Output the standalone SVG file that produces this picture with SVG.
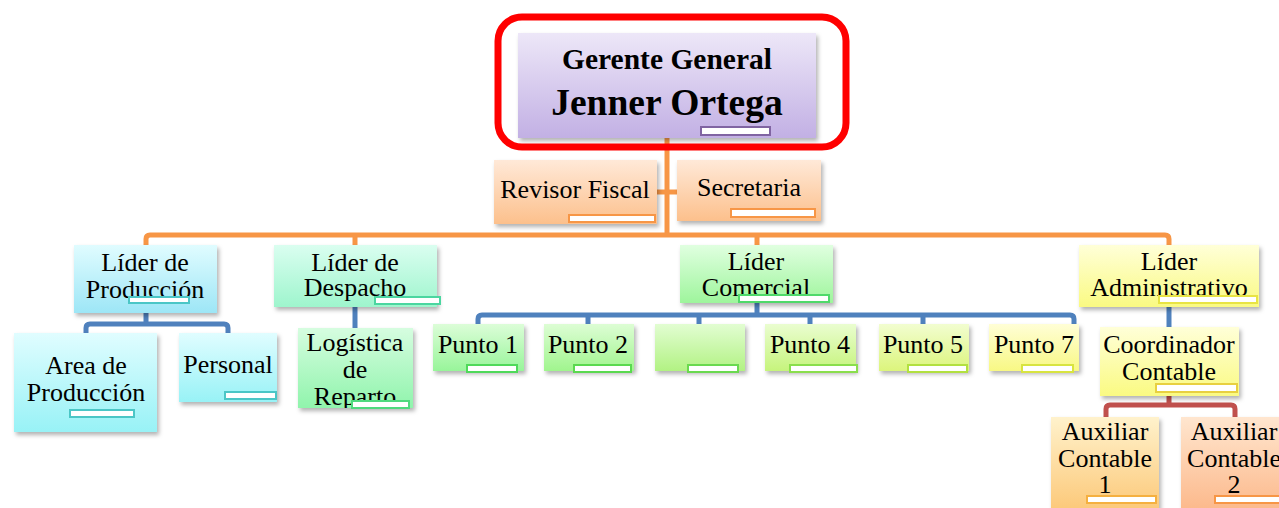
<svg xmlns="http://www.w3.org/2000/svg" width="1279" height="508" viewBox="0 0 1279 508">
<style>
text{font-family:"Liberation Serif","Times New Roman",serif;fill:#000;text-anchor:middle}
.t{font-size:26px}
.g1{font-size:29.5px;font-weight:bold}
.g2{font-size:37.5px;font-weight:bold}
.box{filter:url(#sh)}
.ph{fill:#fff;stroke-width:2}
.co{fill:none;stroke-width:5;stroke-linejoin:round;stroke-linecap:butt}
.or{stroke:#f79646}
.bl{stroke:#4f81bd}
.rd{stroke:#c0504d}
</style>
<defs>
<filter id="sh" x="-10%" y="-10%" width="130%" height="140%">
<feDropShadow dx="2" dy="3" stdDeviation="2" flood-color="#000" flood-opacity="0.3"/>
</filter>
<linearGradient id="gP" x1="0" y1="0" x2="0" y2="1"><stop offset="0" stop-color="#ede7f8"/><stop offset="1" stop-color="#c2b0e4"/></linearGradient>
<linearGradient id="gO" x1="0" y1="0" x2="0" y2="1"><stop offset="0" stop-color="#ffe9d8"/><stop offset="1" stop-color="#fcc08c"/></linearGradient>
<linearGradient id="gC" x1="0" y1="0" x2="0" y2="1"><stop offset="0" stop-color="#e0fcff"/><stop offset="1" stop-color="#9de6f6"/></linearGradient>
<linearGradient id="gC2" x1="0" y1="0" x2="0" y2="1"><stop offset="0" stop-color="#e0fdff"/><stop offset="1" stop-color="#98f2f6"/></linearGradient>
<linearGradient id="gA" x1="0" y1="0" x2="0" y2="1"><stop offset="0" stop-color="#dafef0"/><stop offset="1" stop-color="#9ef5cd"/></linearGradient>
<linearGradient id="gL" x1="0" y1="0" x2="0" y2="1"><stop offset="0" stop-color="#d6fde0"/><stop offset="1" stop-color="#90f4ac"/></linearGradient>
<linearGradient id="gG" x1="0" y1="0" x2="0" y2="1"><stop offset="0" stop-color="#e0ffe0"/><stop offset="1" stop-color="#9ef59c"/></linearGradient>
<linearGradient id="g1" x1="0" y1="0" x2="0" y2="1"><stop offset="0" stop-color="#dcfdd8"/><stop offset="1" stop-color="#98f59a"/></linearGradient>
<linearGradient id="g2" x1="0" y1="0" x2="0" y2="1"><stop offset="0" stop-color="#ddfdd4"/><stop offset="1" stop-color="#a0f58e"/></linearGradient>
<linearGradient id="g3" x1="0" y1="0" x2="0" y2="1"><stop offset="0" stop-color="#e2fdd2"/><stop offset="1" stop-color="#b2f283"/></linearGradient>
<linearGradient id="g4" x1="0" y1="0" x2="0" y2="1"><stop offset="0" stop-color="#eafdd0"/><stop offset="1" stop-color="#c6f47c"/></linearGradient>
<linearGradient id="g5" x1="0" y1="0" x2="0" y2="1"><stop offset="0" stop-color="#f2fdd0"/><stop offset="1" stop-color="#dcf57c"/></linearGradient>
<linearGradient id="g7" x1="0" y1="0" x2="0" y2="1"><stop offset="0" stop-color="#fffed6"/><stop offset="1" stop-color="#f8f884"/></linearGradient>
<linearGradient id="gY" x1="0" y1="0" x2="0" y2="1"><stop offset="0" stop-color="#ffffd8"/><stop offset="1" stop-color="#fafa82"/></linearGradient>
<linearGradient id="gX1" x1="0" y1="0" x2="0" y2="1"><stop offset="0" stop-color="#fff2cc"/><stop offset="1" stop-color="#fcc878"/></linearGradient>
<linearGradient id="gX2" x1="0" y1="0" x2="0" y2="1"><stop offset="0" stop-color="#ffe6cf"/><stop offset="1" stop-color="#fcb88a"/></linearGradient>
<clipPath id="cDes"><rect x="274" y="245" width="163" height="62"/></clipPath>
<clipPath id="cLog"><rect x="298" y="328" width="115" height="80"/></clipPath>
<clipPath id="cCom"><rect x="680" y="245" width="153" height="58"/></clipPath>
<clipPath id="cAdm"><rect x="1079" y="245" width="180" height="62"/></clipPath>
</defs>
<rect width="1279" height="508" fill="#fff"/>

<g id="connectors">
<path class="co or" d="M667,138 V235"/>
<path class="co or" d="M657,192 H677"/>
<path class="co or" d="M146,246 V239 Q146,235 150,235 H1165 Q1169,235 1169,239 V246"/>
<path class="co or" d="M355,235 V246 M757,235 V246"/>
<path class="co bl" d="M146,313 V324 M86,334 V328 Q86,324 90,324 H224 Q228,324 228,328 V334"/>
<path class="co bl" d="M355,306 V329"/>
<path class="co bl" d="M757,303 V315 M478,325 V319 Q478,315 482,315 H1070 Q1074,315 1074,319 V325 M588,315 V325 M699,315 V325 M810,315 V325 M923,315 V325"/>
<path class="co bl" d="M1169,307 V328"/>
<path class="co rd" d="M1169,396 V405 M1106,418 V409 Q1106,405 1110,405 H1231 Q1235,405 1235,409 V418"/>
</g>

<g id="gerente">
<rect class="box" x="518" y="33" width="298" height="105" fill="url(#gP)"/>
<text class="g1" x="667" y="69">Gerente General</text>
<text class="g2" x="667" y="115">Jenner Ortega</text>
<rect class="ph" x="701" y="127" width="69" height="8" stroke="#8064a2"/>
<rect x="498" y="17" width="348" height="130" rx="24" fill="none" stroke="#ff0000" stroke-width="7"/>
</g>

<g id="revisor">
<rect class="box" x="494" y="160" width="163" height="64" fill="url(#gO)"/>
<text class="t" x="575" y="198">Revisor Fiscal</text>
<rect class="ph" x="569" y="215" width="86" height="7" stroke="#f79646"/>
</g>
<g id="secretaria">
<rect class="box" x="677" y="160" width="144" height="61" fill="url(#gO)"/>
<text class="t" x="749" y="196">Secretaria</text>
<rect class="ph" x="731" y="209" width="84" height="8" stroke="#f79646"/>
</g>

<g id="lider-produccion">
<rect class="box" x="74" y="245" width="143" height="68" fill="url(#gC)"/>
<text class="t" x="145" y="271">Líder de</text>
<text class="t" x="145" y="298">Producción</text>
<rect class="ph" x="129" y="297" width="60" height="6" stroke="#4bc6c6"/>
</g>
<g id="area-produccion">
<rect class="box" x="14" y="333" width="143" height="99" fill="url(#gC2)"/>
<text class="t" x="86" y="374">Area de</text>
<text class="t" x="86" y="401">Producción</text>
<rect class="ph" x="70" y="410" width="64" height="7" stroke="#4bc6c6"/>
</g>
<g id="personal">
<rect class="box" x="179" y="333" width="98" height="69" fill="url(#gC2)"/>
<text class="t" x="228" y="373">Personal</text>
<rect class="ph" x="225" y="392" width="51" height="7" stroke="#4bc6c6"/>
</g>

<g id="lider-despacho">
<rect class="box" x="274" y="245" width="163" height="62" fill="url(#gA)"/>
<g clip-path="url(#cDes)">
<text class="t" x="355" y="271">Líder de</text>
<text class="t" x="355" y="296">Despacho</text>
</g>
<rect class="ph" x="375" y="297" width="65" height="7" stroke="#4bd6a0"/>
</g>
<g id="logistica">
<rect class="box" x="298" y="328" width="115" height="80" fill="url(#gL)"/>
<g clip-path="url(#cLog)">
<text class="t" x="355" y="351">Logística</text>
<text class="t" x="355" y="378">de</text>
<text class="t" x="355" y="405">Reparto</text>
</g>
<rect class="ph" x="352" y="401" width="57" height="7" stroke="#4fd97e"/>
</g>

<g id="lider-comercial">
<rect class="box" x="680" y="245" width="153" height="58" fill="url(#gG)"/>
<g clip-path="url(#cCom)">
<text class="t" x="756" y="270">Líder</text>
<text class="t" x="756" y="296">Comercial</text>
</g>
<rect class="ph" x="739" y="295" width="90" height="7" stroke="#4fd96a"/>
</g>

<g id="punto1">
<rect class="box" x="433" y="324" width="91" height="47" fill="url(#g1)"/>
<text class="t" x="478" y="353">Punto 1</text>
<rect class="ph" x="467" y="365" width="50" height="7" stroke="#4fd95a"/>
</g>
<g id="punto2">
<rect class="box" x="544" y="324" width="90" height="47" fill="url(#g2)"/>
<text class="t" x="588" y="353">Punto 2</text>
<rect class="ph" x="574" y="365" width="57" height="7" stroke="#5ad94f"/>
</g>
<g id="punto3">
<rect class="box" x="655" y="324" width="90" height="47" fill="url(#g3)"/>
<rect class="ph" x="688" y="365" width="50" height="7" stroke="#6ad94f"/>
</g>
<g id="punto4">
<rect class="box" x="765" y="324" width="91" height="47" fill="url(#g4)"/>
<text class="t" x="810" y="353">Punto 4</text>
<rect class="ph" x="790" y="365" width="67" height="7" stroke="#8ade4c"/>
</g>
<g id="punto5">
<rect class="box" x="879" y="324" width="90" height="47" fill="url(#g5)"/>
<text class="t" x="923" y="353">Punto 5</text>
<rect class="ph" x="908" y="365" width="59" height="7" stroke="#b2e040"/>
</g>
<g id="punto7">
<rect class="box" x="989" y="324" width="90" height="47" fill="url(#g7)"/>
<text class="t" x="1034" y="353">Punto 7</text>
<rect class="ph" x="1022" y="365" width="51" height="7" stroke="#d8e440"/>
</g>

<g id="lider-administrativo">
<rect class="box" x="1079" y="245" width="180" height="62" fill="url(#gY)"/>
<g clip-path="url(#cAdm)">
<text class="t" x="1169" y="270">Líder</text>
<text class="t" x="1169" y="296">Administrativo</text>
</g>
<rect class="ph" x="1159" y="296" width="98" height="7" stroke="#e8e444"/>
</g>
<g id="coordinador">
<rect class="box" x="1100" y="327" width="139" height="69" fill="url(#gY)"/>
<text class="t" x="1169" y="353">Coordinador</text>
<text class="t" x="1169" y="380">Contable</text>
<rect class="ph" x="1156" y="384" width="81" height="8" stroke="#e8d040"/>
</g>
<g id="auxiliar1">
<rect class="box" x="1051" y="417" width="108" height="95" fill="url(#gX1)"/>
<text class="t" x="1105" y="440">Auxiliar</text>
<text class="t" x="1105" y="467">Contable</text>
<text class="t" x="1105" y="493">1</text>
<rect class="ph" x="1087" y="496" width="69" height="7" stroke="#f5b040"/>
</g>
<g id="auxiliar2">
<rect class="box" x="1181" y="417" width="106" height="95" fill="url(#gX2)"/>
<text class="t" x="1234" y="440">Auxiliar</text>
<text class="t" x="1234" y="467">Contable</text>
<text class="t" x="1234" y="493">2</text>
<rect class="ph" x="1215" y="496" width="69" height="7" stroke="#f79646"/>
</g>
</svg>
